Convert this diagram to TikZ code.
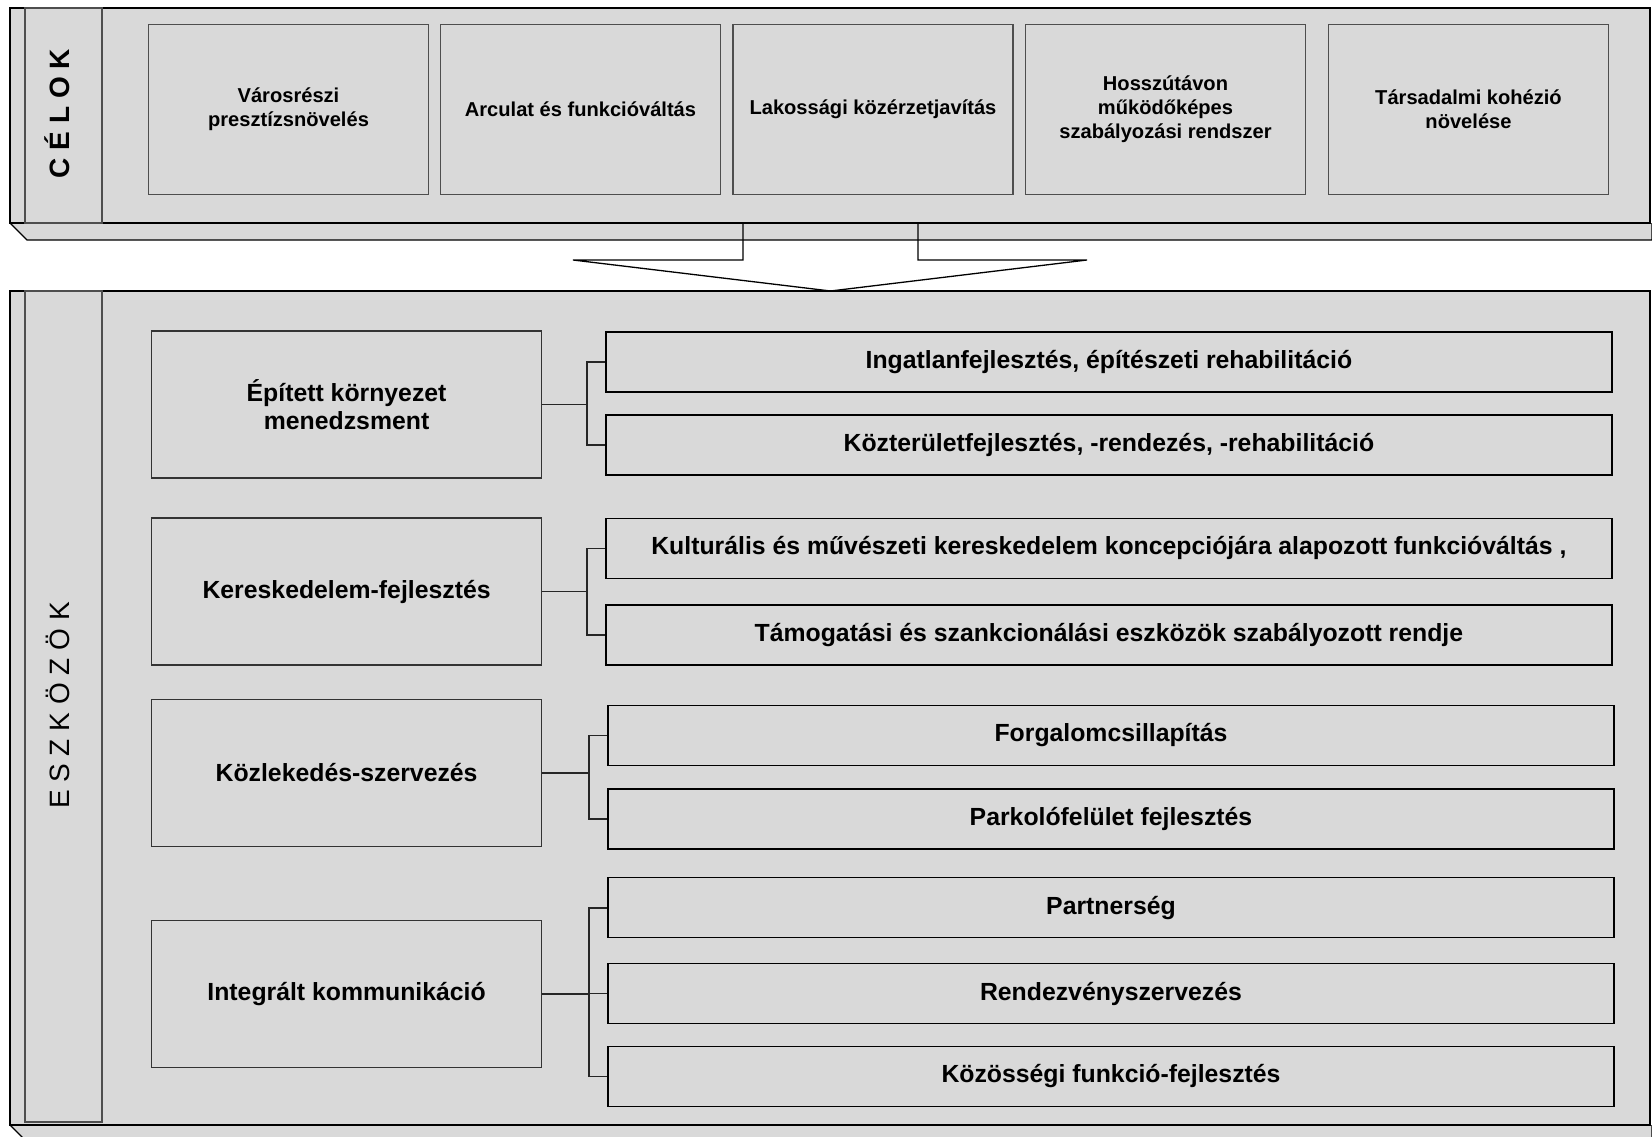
\documentclass[tikz,border=0pt]{standalone}
\usepackage{fontspec}
\setmainfont{Liberation Sans}

\newcommand{\goalw}{280pt}
\newcommand{\goalh}{170pt}
\newcommand{\toolw}{390pt}
\newcommand{\toolh}{147pt}
\newcommand{\subw}{1006pt}
\newcommand{\subh}{60pt}
\newcommand{\jointgap}{18pt}

\definecolor{panelgray}{RGB}{217,217,217}
\definecolor{boxline}{RGB}{78,78,78}

\tikzset{
  panel/.style={draw=black, fill=panelgray, line width=1.3pt},
  labelbox/.style={draw=boxline, line width=2pt},
  sidetext/.style={rotate=90, inner sep=0pt, font=\fontsize{28}{32}\selectfont},
  goalbox/.style={draw=boxline, line width=1.5pt, minimum width=\goalw,
    minimum height=\goalh, align=center, inner sep=0pt,
    font=\fontsize{20.1}{24.2}\selectfont\bfseries},
  toolbox/.style={draw=black!80, line width=1.5pt, minimum width=\toolw,
    minimum height=\toolh, align=center, inner sep=0pt,
    font=\fontsize{24.8}{28.5}\selectfont\bfseries},
  subbox/.style={draw=black, line width=1.5pt, minimum width=\subw,
    minimum height=\subh, align=center, inner sep=0pt,
    font=\fontsize{24.8}{28.5}\selectfont\bfseries},
  link/.style={draw=black!85, line width=1.6pt},
}

\begin{document}
\begin{tikzpicture}[x=1pt, y=-1pt]
  \clip (0,0) rectangle (1652,1137);

  % celok
  \draw [panel] (10,223) -- (27,240) -- (1652,240) -- (1652,223);
  \draw [panel] (10,8) rectangle (1650,223);
  \draw [labelbox] (25,8) rectangle (102,223);
  \node [sidetext, font=\fontsize{28}{32}\selectfont\bfseries] (celok) at (57.5,113.5) {C É L O K};

  \node [goalbox] (G1) at (288.5,109.5) {Városrészi\\presztízsnövelés};
  \node [goalbox] (G2) at (580.5,109.5) {Arculat és funkcióváltás};
  \node [goalbox] (G3) at (873,109.5) {Lakossági közérzetjavítás};
  \node [goalbox] (G4) at (1165.5,109.5) {Hosszútávon\\működőképes\\szabályozási rendszer};
  \node [goalbox] (G5) at (1468.5,109.5) {Társadalmi kohézió\\növelése};

  % arrow
  \coordinate (A) at (743,223);
  \coordinate (B) at (743,260);
  \coordinate (C) at (573,260);
  \coordinate (D) at (830.5,291);
  \coordinate (E) at (1087,260);
  \coordinate (F) at (918,260);
  \coordinate (H) at (918,223);
  \draw [line width=1.3pt] (A) -- (B) -- (C) -- (D) -- (E) -- (F) -- (H);

  % eszkozok
  \draw [panel] (10,1125) -- (27,1142) -- (1652,1142) -- (1652,1125);
  \draw [panel] (10,291) rectangle (1650,1125);
  \draw [labelbox] (25,291) rectangle (102,1122);
  \node [sidetext] (eszk) at (57.5,705.5) {E S Z K Ö Z Ö K};

  \node [toolbox] (T1) at (346.6,404.5) {Épített környezet\\menedzsment};
  \node [toolbox] (T2) at (346.6,591.6) {Kereskedelem-fejlesztés};
  \node [toolbox] (T3) at (346.6,772.8) {Közlekedés-szervezés};
  \node [toolbox] (T4) at (346.6,994) {Integrált kommunikáció};

  \node [subbox] (S11) at (1108.9,361.9) {Ingatlanfejlesztés, építészeti rehabilitáció};
  \node [subbox] (S12) at (1108.9,445.1) {Közterületfejlesztés, -rendezés, -rehabilitáció};
  \node [subbox] (S21) at (1108.9,548.4) {Kulturális és művészeti kereskedelem koncepciójára alapozott funkcióváltás ,};
  \node [subbox] (S22) at (1108.9,634.8) {Támogatási és szankcionálási eszközök szabályozott rendje};
  \node [subbox] (S31) at (1111,735.5) {Forgalomcsillapítás};
  \node [subbox] (S32) at (1111,819.2) {Parkolófelület fejlesztés};
  \node [subbox] (S41) at (1111,907.7) {Partnerség};
  \node [subbox] (S42) at (1111,993.6) {Rendezvényszervezés};
  \node [subbox] (S43) at (1111,1076.3) {Közösségi funkció-fejlesztés};

  % brackets
  \coordinate (K1) at ([xshift=-\jointgap]S11.west);
  \coordinate (K2) at ([xshift=-\jointgap]S21.west);
  \coordinate (K3) at ([xshift=-\jointgap]S31.west);
  \coordinate (K4) at ([xshift=-\jointgap]S41.west);

  \draw [link] (T1.east) -- (T1.east -| K1);
  \draw [link] (S11.west) -- (K1) |- (S12.west);
  \draw [link] (T2.east) -- (T2.east -| K2);
  \draw [link] (S21.west) -- (K2) |- (S22.west);
  \draw [link] (T3.east) -- (T3.east -| K3);
  \draw [link] (S31.west) -- (K3) |- (S32.west);
  \draw [link] (T4.east) -- (T4.east -| K4);
  \draw [link] (S41.west) -- (K4) |- (S43.west);
  \draw [link] (S42.west) -- (S42.west -| K4);

\end{tikzpicture}
\end{document}
